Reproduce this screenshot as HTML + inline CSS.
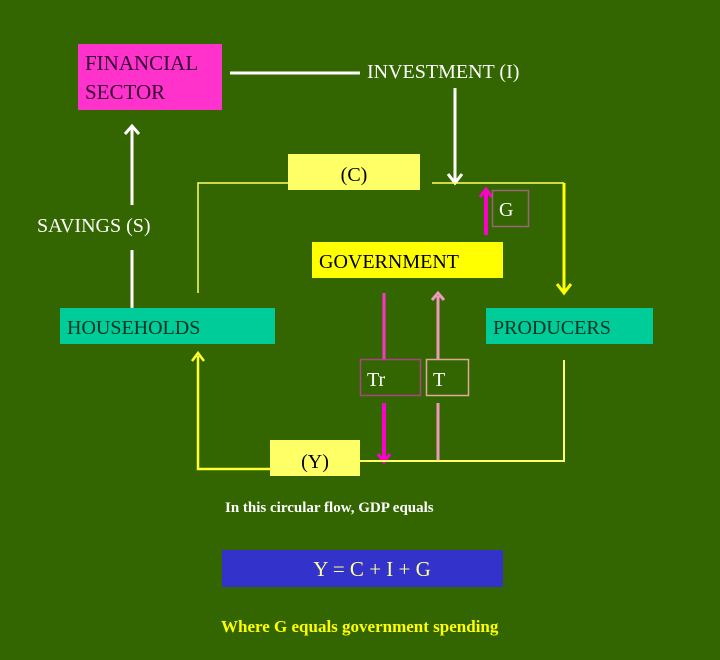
<!DOCTYPE html>
<html><head><meta charset="utf-8"><style>
html,body{margin:0;padding:0;background:#336600;}
svg{display:block;}
text{font-family:"Liberation Serif",serif;}
</style></head><body>
<svg width="720" height="660" viewBox="0 0 720 660" xmlns="http://www.w3.org/2000/svg">
<rect width="720" height="660" fill="#336600"/>
<!-- Financial sector -->
<rect x="78" y="44" width="144" height="66" fill="#ff33cc"/>
<text x="85" y="70" font-size="21" fill="#330033">FINANCIAL</text>
<text x="85" y="99" font-size="21" fill="#330033">SECTOR</text>
<line x1="230" y1="73" x2="360" y2="73" stroke="#fff" stroke-width="3"/>
<text x="367" y="78" font-size="20" fill="#fff">INVESTMENT (I)</text>
<line x1="455" y1="88" x2="455" y2="182" stroke="#fff" stroke-width="3"/>
<polyline points="448,174 455,183 462,174" fill="none" stroke="#fff" stroke-width="3"/>
<!-- savings -->
<line x1="132" y1="128" x2="132" y2="205" stroke="#fff" stroke-width="3"/>
<polyline points="125,134 132,126 139,134" fill="none" stroke="#fff" stroke-width="3"/>
<line x1="132" y1="250" x2="132" y2="308" stroke="#fff" stroke-width="3"/>
<text x="37" y="232" font-size="20" fill="#fff">SAVINGS (S)</text>
<!-- C loop -->
<polyline points="198,293 198,183 288,183" fill="none" stroke="#ffff66" stroke-width="1.5"/>
<polyline points="432,183 564,183" fill="none" stroke="#ffff66" stroke-width="1.5"/>
<line x1="564" y1="183" x2="564" y2="292" stroke="#ffff00" stroke-width="3"/>
<polyline points="557,284 564,293 571,284" fill="none" stroke="#ffff00" stroke-width="3"/>
<rect x="288" y="154" width="132" height="36" fill="#ffff66"/>
<text x="354" y="181" font-size="20" fill="#000" text-anchor="middle">(C)</text>
<!-- G -->
<line x1="486" y1="235" x2="486" y2="192" stroke="#ff00cc" stroke-width="4"/>
<polyline points="480,197 486,189 492,197" fill="none" stroke="#ff00cc" stroke-width="3"/>
<rect x="492.5" y="190.5" width="36" height="36" fill="none" stroke="#996677" stroke-width="1.5"/>
<text x="499" y="216" font-size="20" fill="#fff">G</text>
<!-- Government -->
<rect x="312" y="242" width="191" height="36" fill="#ffff00"/>
<text x="319" y="268" font-size="20" fill="#000">GOVERNMENT</text>
<!-- Households/Producers -->
<rect x="60" y="308" width="215" height="36" fill="#00cc99"/>
<text x="67" y="334" font-size="20" fill="#003322">HOUSEHOLDS</text>
<rect x="486" y="308" width="167" height="36" fill="#00cc99"/>
<text x="493" y="334" font-size="20" fill="#003322">PRODUCERS</text>
<!-- Tr / T -->
<line x1="384" y1="293" x2="384" y2="359" stroke="#ff33cc" stroke-width="3"/>
<rect x="360.5" y="359.5" width="60" height="36" fill="none" stroke="#aa4488" stroke-width="1.5"/>
<text x="367" y="386" font-size="20" fill="#fff">Tr</text>
<line x1="384" y1="403" x2="384" y2="460" stroke="#ff00cc" stroke-width="4"/>
<polyline points="378,454 384,462 390,454" fill="none" stroke="#ff00cc" stroke-width="3"/>
<line x1="438" y1="360" x2="438" y2="296" stroke="#ee99bb" stroke-width="3"/>
<polyline points="432,300 438,293 444,300" fill="none" stroke="#ee99bb" stroke-width="3"/>
<rect x="426.5" y="359.5" width="42" height="36" fill="none" stroke="#ddaa99" stroke-width="1.5"/>
<text x="433" y="386" font-size="20" fill="#fff">T</text>
<line x1="438" y1="403" x2="438" y2="462" stroke="#ee99bb" stroke-width="3"/>
<!-- Y loop -->
<polyline points="270,469 198,469 198,356" fill="none" stroke="#ffff33" stroke-width="2.5"/>
<polyline points="192,361 198,353 204,361" fill="none" stroke="#ffff33" stroke-width="2.5"/>
<polyline points="360,461 564,461 564,360" fill="none" stroke="#ffff66" stroke-width="2"/>
<rect x="270" y="440" width="90" height="36" fill="#ffff66"/>
<text x="315" y="468" font-size="20" fill="#000" text-anchor="middle">(Y)</text>
<!-- bottom text -->
<text x="225" y="512" font-size="15" font-weight="bold" fill="#fff">In this circular flow, GDP equals</text>
<rect x="222" y="550" width="281" height="37" fill="#3333cc"/>
<text x="372" y="576" font-size="21" fill="#ffff99" text-anchor="middle">Y = C + I + G</text>
<text x="221" y="632" font-size="17" font-weight="bold" fill="#ffff00">Where G equals government spending</text>
</svg>
</body></html>
